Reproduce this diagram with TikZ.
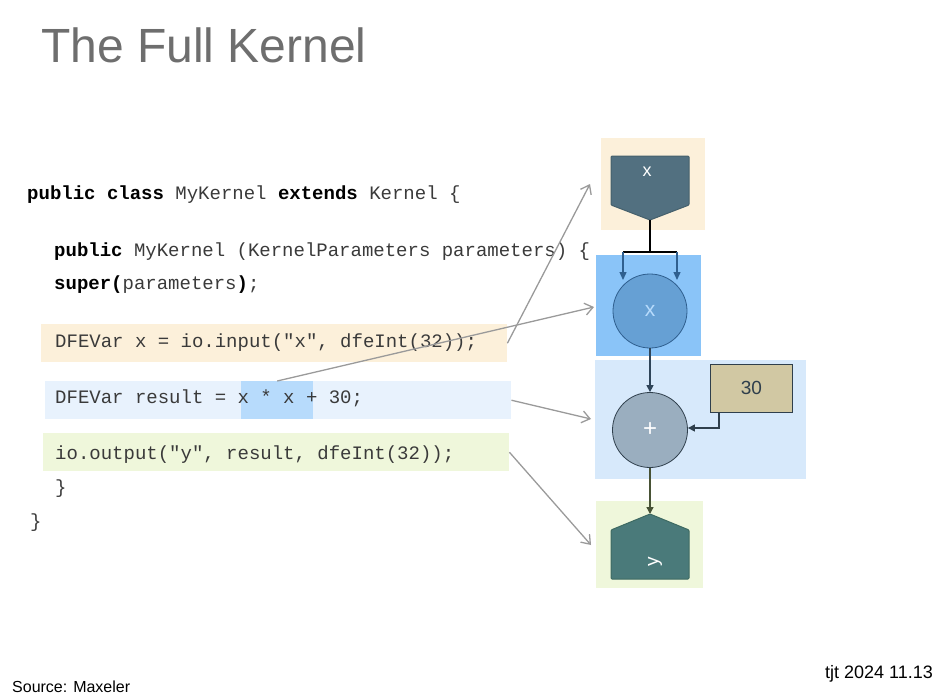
\documentclass[tikz,border=0pt]{standalone}
\usepackage{fontspec}
\setmainfont{Liberation Sans}
\newfontfamily\codefont{Liberation Mono}
\usetikzlibrary{arrows.meta,positioning}
\definecolor{codegray}{HTML}{3A3A3A}
\definecolor{titlegray}{HTML}{6E6E6E}
\definecolor{orangebg}{HTML}{FCF0DA}
\definecolor{bluebg}{HTML}{E8F2FD}
\definecolor{bluehl}{HTML}{B7DBFC}
\definecolor{greenbg}{HTML}{EFF7DB}
\definecolor{mulbg}{HTML}{8AC4F8}
\definecolor{addbg}{HTML}{D7E9FB}
\definecolor{inshape}{HTML}{527080}
\definecolor{inborder}{HTML}{45606C}
\definecolor{outshape}{HTML}{4A7A7A}
\definecolor{outborder}{HTML}{3E6A62}
\definecolor{mulfill}{HTML}{66A0D4}
\definecolor{mulborder}{HTML}{2F5F8F}
\definecolor{addfill}{HTML}{9AAEBF}
\definecolor{addborder}{HTML}{2F3F4C}
\definecolor{constfill}{HTML}{D1C8A3}
\definecolor{arrowgray}{HTML}{9A9A9A}
\tikzset{
  code/.style={font=\codefont\fontsize{19}{19}\selectfont, text=codegray, anchor=base west, inner sep=0pt},
  bgbox/.style={rectangle, anchor=north west, inner sep=0pt, draw=none},
  pointer/.style={draw=arrowgray, line width=1.3pt, -{Straight Barb[length=8pt,width=12pt]}},
  flow/.style={line width=1.3pt, -{Triangle[length=7pt,width=7pt]}},
}
\begin{document}
\begin{tikzpicture}[x=1pt,y=-1pt]
\useasboundingbox (0,0) rectangle (944,694);
% title
\node[anchor=base west, inner sep=0pt, text=titlegray, font=\fontsize{48}{48}\selectfont] (title) at (41,62) {The Full Kernel};
% code backgrounds
\node[bgbox, fill=orangebg, minimum width=466pt, minimum height=38pt] (cin) at (41,324) {};
\node[bgbox, fill=bluebg, minimum width=466pt, minimum height=38pt] (cres) at (45,381) {};
\node[bgbox, fill=bluehl, minimum width=72pt, minimum height=38pt] (chl) at (241,381) {};
\node[bgbox, fill=greenbg, minimum width=466pt, minimum height=38pt] (cout) at (43,433) {};
% code
\node[code] (l1) at (27,199.5) {\textcolor{black}{\textbf{public class}} MyKernel \textcolor{black}{\textbf{extends}} Kernel \{};
\node[code] (l2) at (54,256.5) {\textcolor{black}{\textbf{public}} MyKernel (KernelParameters parameters) \{};
\node[code] (l3) at (54,289.5) {\textcolor{black}{\textbf{super(}}parameters\textcolor{black}{\textbf{)}};};
\node[code] (l4) at (55,347.5) {DFEVar x = io.input("x", dfeInt(32));};
\node[code] (l5) at (55,403.5) {DFEVar result = x * x + 30;};
\node[code] (l6) at (55,459.5) {io.output("y", result, dfeInt(32));};
\node[code] (l7) at (55,493.5) {\}};
\node[code] (l8) at (30,527.5) {\}};
% right-side backgrounds
\node[bgbox, fill=orangebg, minimum width=104pt, minimum height=92pt] (inbg) at (601,138) {};
\node[bgbox, fill=addbg, minimum width=211pt, minimum height=119pt] (addbgn) at (595,360) {};
\node[bgbox, fill=mulbg, minimum width=105pt, minimum height=101pt] (mulbgn) at (596,255) {};
\node[bgbox, fill=greenbg, minimum width=107pt, minimum height=87pt] (outbg) at (596,501) {};
% input shape
\draw[fill=inshape, draw=inborder, line width=1pt, rounded corners=1pt]
  (611,156) -- (689,156) -- (689,205) -- (650,220) -- (611,205) -- cycle;
\coordinate (intip) at (650,220);
\node[text=white, font=\fontsize{18}{18}\selectfont, inner sep=0pt] (inlabel) at (647,172) {x};
% mult circle
\node[circle, fill=mulfill, draw=mulborder, line width=0.8pt, minimum size=74pt, inner sep=0pt,
      text=bluehl, font=\fontsize{21}{21}\selectfont] (mul) at (650,311) {x};
% add circle
\node[circle, fill=addfill, draw=addborder, line width=0.8pt, minimum size=75pt, inner sep=0pt,
      text=white, font=\fontsize{24}{24}\selectfont] (add) at (650,430) {+};
% constant
\node[bgbox, fill=constfill, draw=addborder, line width=0.8pt, minimum width=82pt, minimum height=48pt,
      font=\fontsize{19}{19}\selectfont, text=addborder] (const) at (710,364) {30};
% output shape
\draw[fill=outshape, draw=outborder, line width=1pt, rounded corners=1pt]
  (611,530) -- (650,514) -- (689,530) -- (689,579) -- (611,579) -- cycle;
\coordinate (outtip) at (650,514);
\node[text=white, font=\fontsize{19}{19}\selectfont, inner sep=0pt, rotate=90] (outlabel) at (655,562) {y};
% dataflow connectors
\coordinate (split) at (650,252);
\draw[line width=2pt] (intip) -- (split);
\draw[line width=1.5pt, draw=black] (623,252) -- (677,252);
\draw[flow, draw=mulborder, -{Triangle[length=8pt,width=7pt,fill=mulborder]}] (623,252) -- (623,280);
\draw[flow, draw=mulborder, -{Triangle[length=8pt,width=7pt,fill=mulborder]}] (677,252) -- (677,280);
\draw[flow, draw=addborder!80!mulborder] (mul.south) -- (add.north);
\draw[line width=1.2pt, draw=addborder, -{Triangle[length=7pt,width=7pt]}]
  (755,412.5) -- (719,412.5) -- (719,428) -- (add.east |- 0,428);
\draw[flow, draw=addborder!70!olive] (add.south) -- (outtip);
% pointers from code
\coordinate (p1) at (590,184);
\coordinate (p2) at (594,307);
\coordinate (p3) at (591,419);
\coordinate (p4) at (591,545);
\draw[pointer] (cin.east) -- (p1);
\draw[pointer] (chl.north) -- (p2);
\draw[pointer] (cres.east) -- (p3);
\draw[pointer] (cout.east) -- (p4);
% footer
\node[anchor=base west, inner sep=0pt, font=\fontsize{16}{16}\selectfont] (src) at (12,692) {Source: Maxeler};
\node[anchor=base east, inner sep=0pt, font=\fontsize{18}{18}\selectfont] (date) at (933,678) {tjt 2024 11.13};
\end{tikzpicture}
\end{document}
